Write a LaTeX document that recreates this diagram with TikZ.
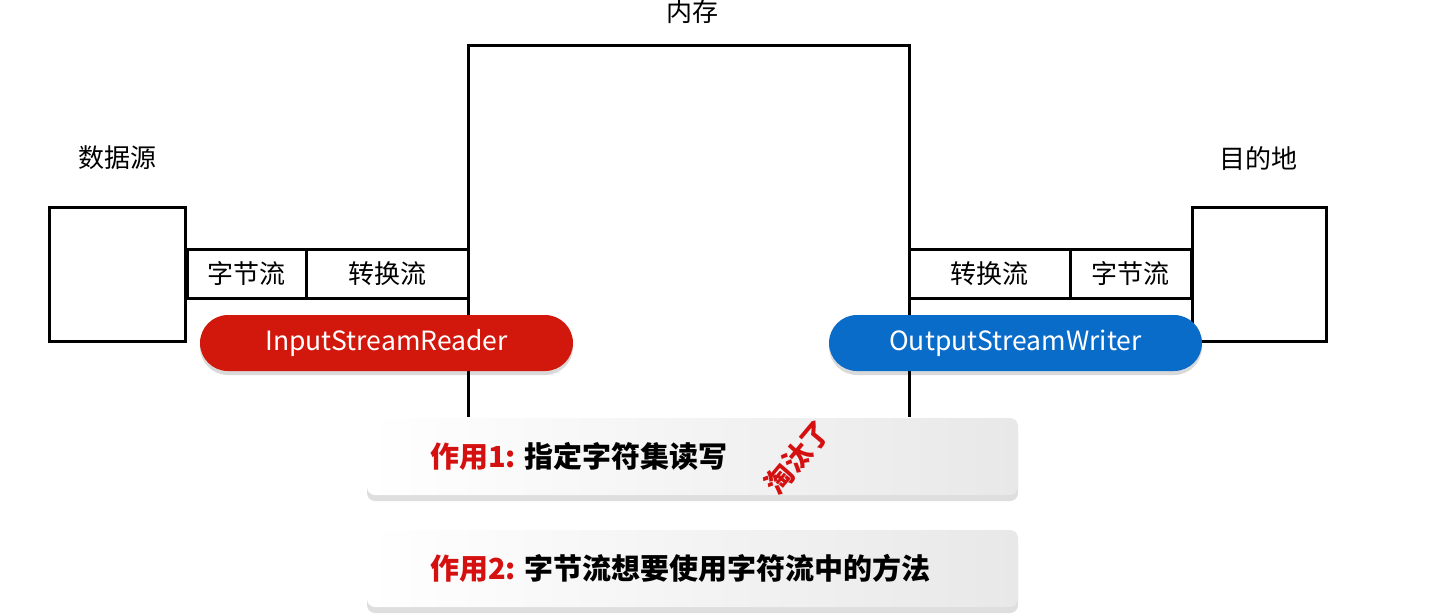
\documentclass[tikz,border=0pt]{standalone}
\usepackage{fontspec}
\setmainfont{Noto Sans CJK SC}
\usetikzlibrary{shadows}
\definecolor{pillred}{HTML}{D2180C}
\definecolor{pillblue}{HTML}{0A6CC9}
\definecolor{tagred}{HTML}{D41010}
\tikzset{
  thick line/.style={line width=3pt, line cap=rect},
  lbl/.style={font=\fontsize{26}{28}\selectfont, inner sep=0pt},
  pill/.style={rounded corners=28pt, minimum width=373pt, minimum height=56pt, inner sep=0pt,
    text=white, font=\fontsize{26.5}{29}\selectfont,
    drop shadow={shadow xshift=0pt, shadow yshift=-4pt, opacity=0.15, fill=black}},
  panel/.style={rounded corners=8pt, minimum width=651pt, minimum height=77pt, inner sep=0pt,
    left color=white, right color=black!9, draw=none,
    drop shadow={shadow xshift=0pt, shadow yshift=-6pt, opacity=0.13, fill=black}},
  ptext/.style={font=\bfseries\fontsize{29}{31}\selectfont, inner sep=0pt, anchor=west}
}
\begin{document}
\begin{tikzpicture}[x=1pt,y=-1pt]
\useasboundingbox[fill=white] (0,0) rectangle (1434,614);
% memory
\coordinate (mbl) at (468,415);
\coordinate (mtl) at (468,45);
\coordinate (mtr) at (909,45);
\coordinate (mbr) at (909,415);
\draw[thick line] (mbl) -- (mtl) -- (mtr) -- (mbr);
\node[lbl] (mem) at (692,12) {内存};
% source and destination
\node[draw, line width=3pt, minimum width=136pt, minimum height=134pt, inner sep=0pt] (src) at (117.5,274.5) {};
\node[draw, line width=3pt, minimum width=134pt, minimum height=134pt, inner sep=0pt] (dst) at (1259.5,274.5) {};
\node[lbl] (srcl) at (117,158) {数据源};
\node[lbl] (dstl) at (1258,158) {目的地};
% left pipe
\node[draw, line width=3pt, minimum width=119pt, minimum height=49pt, inner sep=0pt, lbl] (lb) at (246.5,273.5) {字节流};
\node[draw, line width=3pt, minimum width=162pt, minimum height=49pt, inner sep=0pt, lbl] (lc) at (387,273.5) {转换流};
% right pipe
\node[draw, line width=3pt, minimum width=161pt, minimum height=49pt, inner sep=0pt, lbl] (rc) at (989.5,273.5) {转换流};
\node[draw, line width=3pt, minimum width=121pt, minimum height=49pt, inner sep=0pt, lbl] (rb) at (1130.5,273.5) {字节流};
% pills
\node[pill, fill=pillred] (isr) at (386.5,343) {InputStreamReader};
\node[pill, fill=pillblue] (osw) at (1015.5,343) {OutputStreamWriter};
% panels
\node[panel] (p1) at (692.5,456.5) {};
\node[panel] (p2) at (692.5,568.5) {};
\node[ptext] (t1) at (430,456) {\textcolor{tagred}{作用1:} 指定字符集读写};
\node[ptext] (t2) at (430,568) {\textcolor{tagred}{作用2:} 字节流想要使用字符流中的方法};
\node[font=\bfseries\fontsize{28}{30}\selectfont, text=tagred, rotate=50, inner sep=0pt] (tt) at (797,457) {淘汰了};
\end{tikzpicture}
\end{document}
